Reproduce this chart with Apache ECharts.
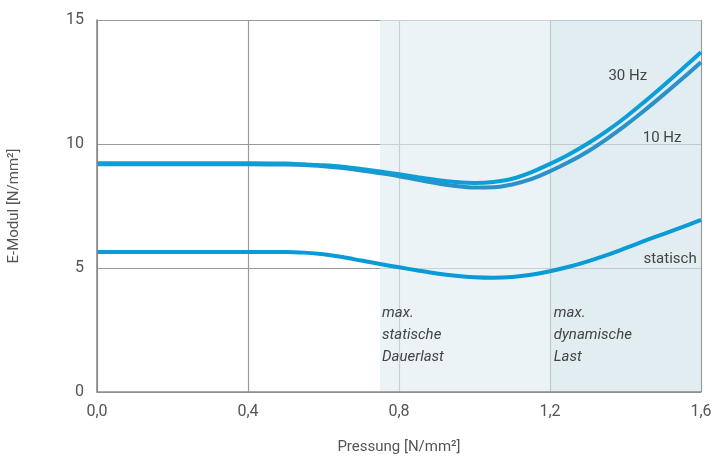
<!DOCTYPE html>
<html>
<head>
<meta charset="utf-8">
<script src="https://cdn.jsdelivr.net/npm/echarts@6/dist/echarts.min.js"></script>
<style>html,body{margin:0;padding:0;background:#fff}#c{width:715px;height:459px}</style>
</head>
<body>
<div id="c"></div>
<script>
const pressure = [0, 0.1, 0.2, 0.3, 0.4, 0.5, 0.55, 0.6, 0.65, 0.7, 0.75, 0.8, 0.85, 0.9, 0.95, 1.0, 1.05, 1.1, 1.15, 1.2, 1.25, 1.3, 1.35, 1.4, 1.45, 1.5, 1.55, 1.6];
const hz30 = [9.22, 9.22, 9.22, 9.22, 9.22, 9.21, 9.18, 9.14, 9.08, 8.99, 8.89, 8.78, 8.66, 8.55, 8.47, 8.43, 8.47, 8.6, 8.86, 9.2, 9.58, 10.02, 10.52, 11.08, 11.7, 12.35, 13.02, 13.7];
const hz10 = [9.18, 9.18, 9.18, 9.18, 9.18, 9.17, 9.15, 9.1, 9.03, 8.93, 8.82, 8.7, 8.56, 8.42, 8.31, 8.25, 8.26, 8.37, 8.58, 8.9, 9.27, 9.7, 10.2, 10.75, 11.35, 11.98, 12.63, 13.3];
const statisch = [5.65, 5.65, 5.65, 5.65, 5.65, 5.65, 5.62, 5.55, 5.44, 5.3, 5.16, 5.03, 4.9, 4.78, 4.69, 4.63, 4.61, 4.64, 4.73, 4.87, 5.05, 5.27, 5.52, 5.8, 6.09, 6.37, 6.65, 6.94];
const xTicks = [0, 0.4, 0.8, 1.2, 1.6];
const yTicks = [0, 5, 10, 15];
const zones = [[0.75, 1.2], [1.2, 1.6]];
const seriesNames = ['10 Hz', '30 Hz', 'statisch'];
const notes = [
  {text: 'max.\nstatische\nDauerlast', x: 0.755, y: 3.6},
  {text: 'max.\ndynamische\nLast', x: 1.21, y: 3.6}
];
const curveLabels = [
  {text: '30 Hz', x: 1.406, y: 12.74},
  {text: '10 Hz', x: 1.497, y: 10.24},
  {text: 'statisch', x: 1.518, y: 5.36}
];

const FONT = 'Roboto';
const TXT = '#555';
const pairs = arr => pressure.map((p, i) => [p, arr[i]]);

const chart = echarts.init(document.getElementById('c'), null, {renderer: 'canvas'});
const option = {
  animation: false,
  grid: {left: 97, right: 14, top: 20, bottom: 67, containLabel: false, outerBoundsMode: 'none'},
  xAxis: [{
    type: 'value', min: 0, max: 1.6, interval: 0.4,
    axisLine: {show: false}, axisTick: {show: false},
    axisLabel: {color: TXT, fontFamily: FONT, fontSize: 16, margin: 12,
      formatter: v => v.toFixed(1).replace('.', ',')},
    splitLine: {show: true, lineStyle: {color: '#9a9a9a', width: 1.2}},
    name: 'Pressung [N/mm²]', nameLocation: 'middle', nameGap: 48,
    nameTextStyle: {color: TXT, fontFamily: FONT, fontSize: 15}
  }, {
    type: 'value', min: 0, max: 1.6, position: 'bottom', z: 10,
    axisLine: {show: true, lineStyle: {color: '#8a8a8a', width: 1.6}},
    axisTick: {show: false}, axisLabel: {show: false}, splitLine: {show: false}
  }],
  yAxis: [{
    type: 'value', min: 0, max: 15, interval: 5,
    axisLine: {show: false}, axisTick: {show: false},
    axisLabel: {color: TXT, fontFamily: FONT, fontSize: 16, margin: 13},
    splitLine: {show: true, lineStyle: {color: '#9a9a9a', width: 1.2}},
    name: 'E-Modul [N/mm²]', nameLocation: 'middle', nameGap: 75, nameRotate: 90,
    nameTextStyle: {color: TXT, fontFamily: FONT, fontSize: 15}
  }, {
    type: 'value', min: 0, max: 15, position: 'left', z: 10,
    axisLine: {show: true, lineStyle: {color: '#8a8a8a', width: 1.6}},
    axisTick: {show: false}, axisLabel: {show: false}, splitLine: {show: false}
  }],
  series: [
    {
      name: 'zones', type: 'line', data: [], silent: true,
      markArea: {
        silent: true,
        data: [
          [{xAxis: zones[0][0], yAxis: 0, itemStyle: {color: 'rgba(224,237,243,0.66)'}}, {xAxis: zones[0][1], yAxis: 15}],
          [{xAxis: zones[1][0], yAxis: 0, itemStyle: {color: 'rgba(211,228,236,0.66)'}}, {xAxis: zones[1][1], yAxis: 15}]
        ]
      }
    },
    {name: seriesNames[0], type: 'line', data: pairs(hz10), smooth: 0.35, showSymbol: false,
      lineStyle: {color: '#2a91c9', width: 4}, z: 3},
    {name: seriesNames[1], type: 'line', data: pairs(hz30), smooth: 0.35, showSymbol: false,
      lineStyle: {color: '#0c9fd7', width: 4}, z: 4},
    {name: seriesNames[2], type: 'line', data: pairs(statisch), smooth: 0.35, showSymbol: false,
      lineStyle: {color: '#0a9ad5', width: 4}, z: 4}
  ]
};
chart.setOption(option);

const graphics = [];
curveLabels.forEach(l => {
  const p = chart.convertToPixel({gridIndex: 0}, [l.x, l.y]);
  graphics.push({type: 'text', x: p[0], y: p[1], z: 20,
    style: {text: l.text, fill: '#444', font: '15px ' + FONT, align: 'center', verticalAlign: 'middle'}});
});
notes.forEach(n => {
  const p = chart.convertToPixel({gridIndex: 0}, [n.x, n.y]);
  graphics.push({type: 'text', x: p[0], y: p[1], z: 20,
    style: {text: n.text, fill: '#444', font: 'italic 15px ' + FONT, lineHeight: 22, align: 'left', verticalAlign: 'top'}});
});
chart.setOption({graphic: graphics});
</script>
</body>
</html>
